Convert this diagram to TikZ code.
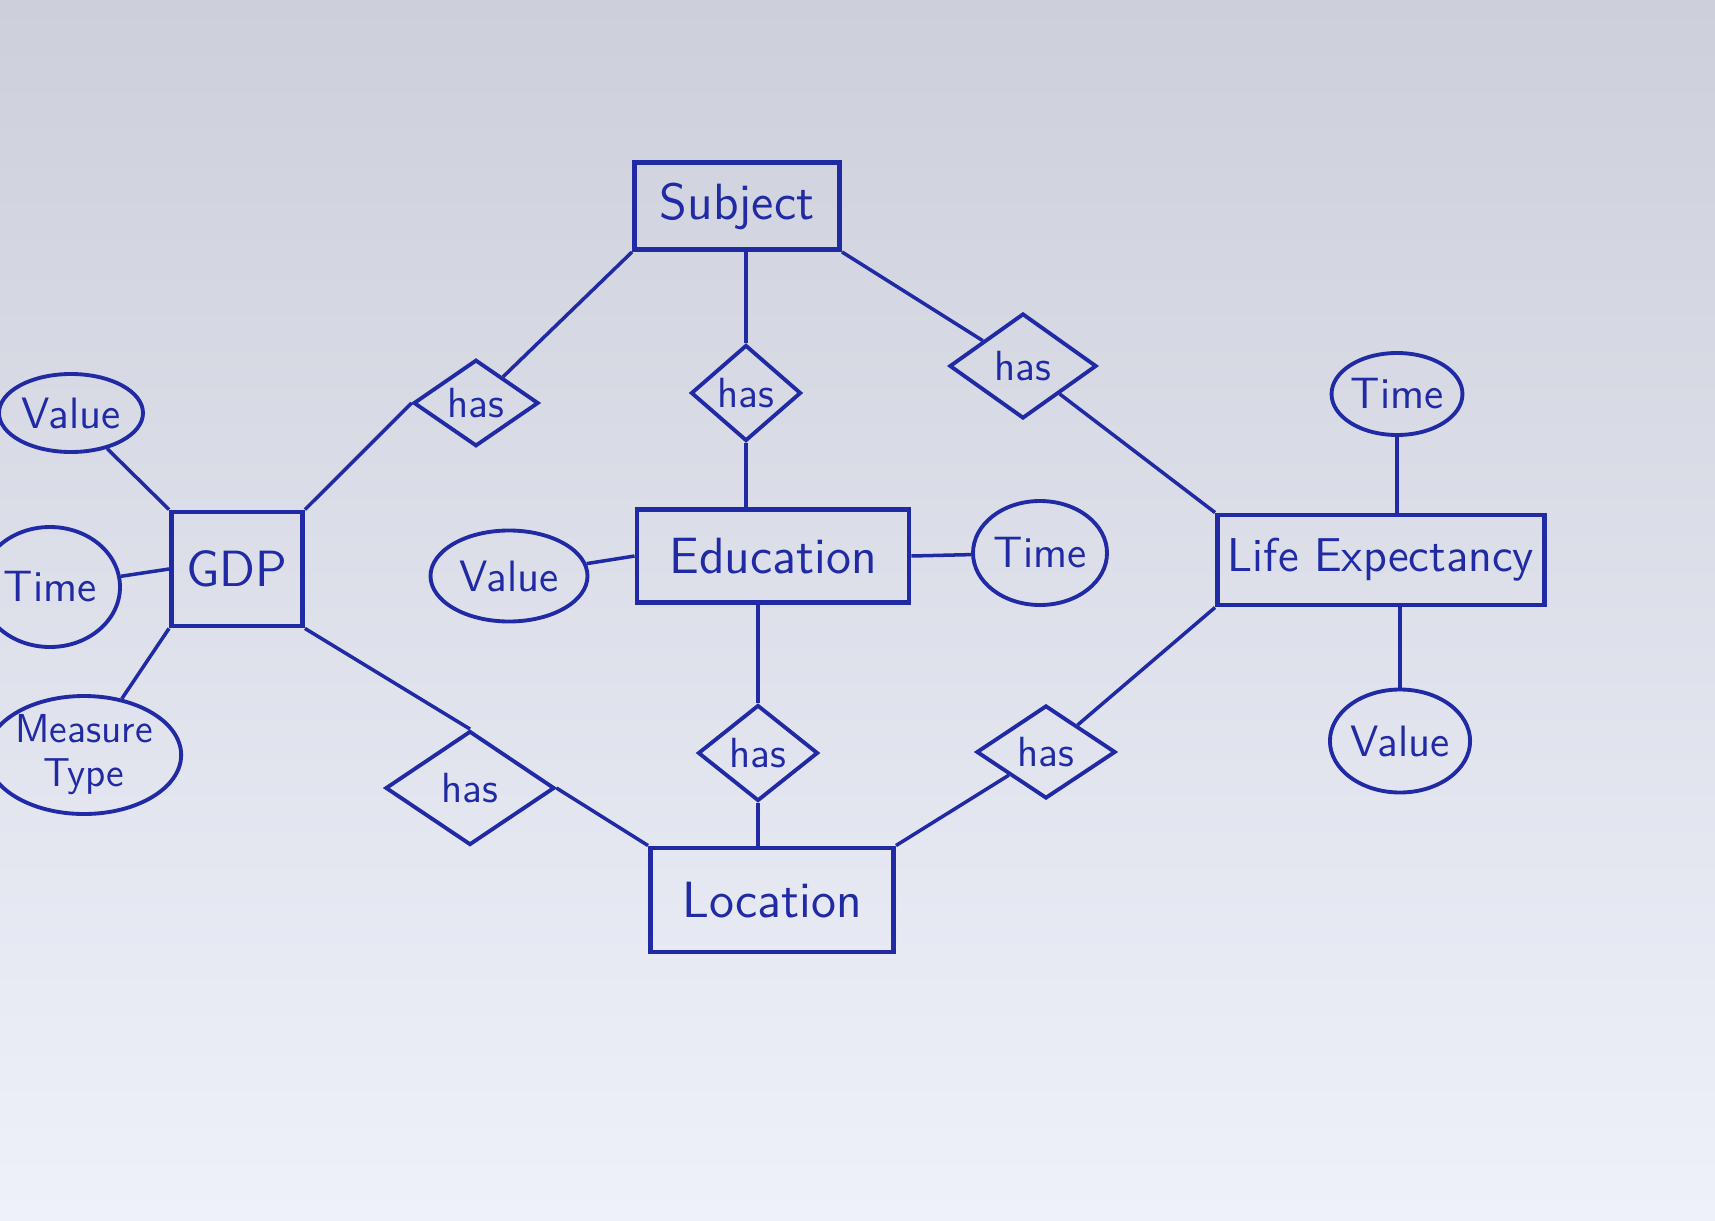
\documentclass[tikz,border=0pt]{standalone}
\usetikzlibrary{shapes.geometric}
\definecolor{ink}{RGB}{32,42,165}
\definecolor{paperTop}{RGB}{205,208,218}
\definecolor{paperBot}{RGB}{238,241,250}
\tikzset{
  entity/.style={draw=ink, line width=1.4pt, text=ink, inner sep=0pt,
    font=\sffamily\fontsize{14.5}{15}\selectfont},
  relation/.style={diamond, draw=ink, line width=1.1pt, text=ink, inner sep=0pt,
    font=\sffamily\fontsize{12}{12}\selectfont},
  attr/.style={ellipse, draw=ink, line width=1.1pt, text=ink, inner sep=0pt,
    font=\sffamily\fontsize{12.5}{13}\selectfont},
  link/.style={draw=ink, line width=1pt}
}
\begin{document}
\begin{tikzpicture}
\shade[top color=paperTop, bottom color=paperBot] (0,0) rectangle (17.15,12.20);
\useasboundingbox (0,0) rectangle (17.15,12.20);
\clip (0,0) rectangle (17.15,12.20);

% entities
\node[entity, minimum width=2.05cm, minimum height=0.87cm] (subject) at (7.37,10.14) {Subject};
\node[entity, minimum width=2.72cm, minimum height=0.93cm] (education) at (7.73,6.64) {Education};
\node[entity, minimum width=1.31cm, minimum height=1.14cm] (gdp) at (2.37,6.51) {GDP};
\node[entity, minimum width=3.27cm, minimum height=0.90cm,
  font=\sffamily\fontsize{13.5}{14}\selectfont] (life) at (13.81,6.60) {Life Expectancy};
\node[entity, minimum width=2.43cm, minimum height=1.04cm] (location) at (7.72,3.20) {Location};

% relations
\node[relation, minimum width=1.25cm, minimum height=0.74cm] (hasA) at (4.76,8.17) {has};
\node[relation, minimum width=1.10cm, minimum height=0.96cm] (hasB) at (7.46,8.27) {has};
\node[relation, minimum width=1.47cm, minimum height=1.05cm] (hasC) at (10.23,8.54) {has};
\node[relation, minimum width=1.69cm, minimum height=1.14cm] (hasD) at (4.70,4.32) {has};
\node[relation, minimum width=1.20cm, minimum height=0.96cm] (hasE) at (7.58,4.67) {has};
\node[relation, minimum width=1.39cm, minimum height=0.93cm] (hasF) at (10.46,4.68) {has};

% attributes
\node[attr, minimum width=1.44cm, minimum height=0.78cm] (gdpValue) at (0.71,8.07) {Value};
\node[attr, minimum width=1.40cm, minimum height=1.20cm] (gdpTime) at (0.50,6.33) {Time};
\node[attr, minimum width=1.65cm, minimum height=1.18cm, align=center,
  font=\sffamily\fontsize{11.5}{12.5}\selectfont] (gdpType) at (0.84,4.65) {Measure\\Type};
\node[attr, minimum width=1.57cm, minimum height=0.91cm] (eduValue) at (5.09,6.44) {Value};
\node[attr, minimum width=1.34cm, minimum height=1.04cm] (eduTime) at (10.40,6.67) {Time};
\node[attr, minimum width=1.29cm, minimum height=0.82cm] (lifeTime) at (13.97,8.26) {Time};
\node[attr, minimum width=1.30cm, minimum height=1.03cm] (lifeValue) at (14.00,4.79) {Value};

% relationship lines
\draw[link] (gdp.north east) -- (hasA.west);
\draw[link] (hasA) -- (subject.south west);
\draw[link] (hasB.north) -- (hasB.north |- subject.south);
\draw[link] (hasB.south) -- (hasB.south |- education.north);
\draw[link] (subject.south east) -- (hasC);
\draw[link] (hasC) -- (life.north west);
\draw[link] (hasE.north) -- (hasE.north |- education.south);
\draw[link] (hasE.south) -- (hasE.south |- location.north);
\draw[link] (gdp.south east) -- (hasD.north);
\draw[link] (hasD.east) -- (location.north west);
\draw[link] (life.south west) -- (hasF);
\draw[link] (hasF) -- (location.north east);

% attribute lines
\draw[link] (gdpValue) -- (gdp.north west);
\draw[link] (gdpTime) -- (gdp.west);
\draw[link] (gdpType) -- (gdp.south west);
\draw[link] (eduValue) -- (education.west);
\draw[link] (eduTime) -- (education.east);
\draw[link] (lifeTime.south) -- (lifeTime.south |- life.north);
\draw[link] (lifeValue.north) -- (lifeValue.north |- life.south);
\end{tikzpicture}
\end{document}
